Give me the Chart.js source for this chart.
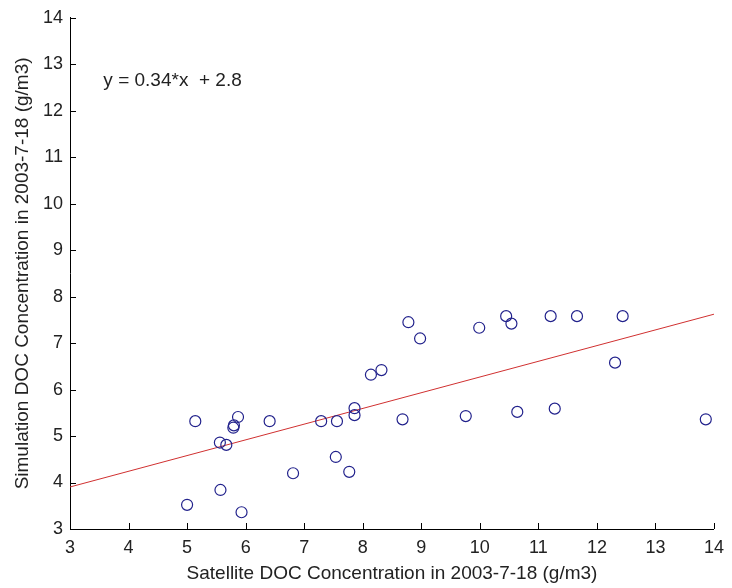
<!DOCTYPE html>
<html>
<head>
<meta charset="utf-8">
<script src="https://cdn.jsdelivr.net/npm/chart.js@4.4.1/dist/chart.umd.min.js"></script>
<style>
html,body{margin:0;padding:0;background:#fff;}
#wrap{width:732px;height:588px;}
</style>
</head>
<body>
<div id="wrap"><canvas id="c" width="732" height="588"></canvas></div>
<script>
const satelliteX = [5.14,5.0,5.57,5.93,5.56,5.67,5.79,5.80,5.87,6.41,6.81,7.29,7.56,7.54,7.77,7.86,7.86,8.14,8.32,8.68,8.78,8.98,9.76,9.99,10.45,10.54,10.64,11.21,11.28,11.66,12.44,12.31,13.86];
const simulationY = [5.32,3.52,3.84,3.36,4.86,4.81,5.18,5.23,5.41,5.32,4.20,5.32,5.32,4.55,4.23,5.60,5.45,6.32,6.42,5.36,7.45,7.10,5.43,7.33,7.58,7.42,5.52,7.58,5.59,7.58,7.58,6.58,5.36];
const fitSlope = 0.338;
const fitIntercept = 2.89;
const fitRangeX = [3, 14];
const tickValues = [3,4,5,6,7,8,9,10,11,12,13,14];
const equationText = 'y = 0.34*x  + 2.8';
const xTitle = 'Satellite DOC Concentration in 2003-7-18 (g/m3)';
const yTitle = 'Simulation DOC Concentration in 2003-7-18 (g/m3)';

const FONT = "'Liberation Sans', Arial, sans-serif";
const pts = satelliteX.map((x,i)=>({x:x,y:simulationY[i]}));
const fitPts = fitRangeX.map(x=>({x:x,y:fitSlope*x+fitIntercept}));

const extras = {
  id:'extras',
  afterDraw(chart){
    const ctx = chart.ctx, xs = chart.scales.x, ys = chart.scales.y;
    const a = chart.chartArea;
    ctx.save();
    ctx.strokeStyle = '#000';
    ctx.lineWidth = 1;
    ctx.beginPath();
    tickValues.forEach(v=>{
      const px = Math.round(xs.getPixelForValue(v))+0.5;
      ctx.moveTo(px, a.bottom); ctx.lineTo(px, a.bottom-6);
      const py = Math.round(ys.getPixelForValue(v))+0.5;
      ctx.moveTo(a.left, py); ctx.lineTo(a.left+6, py);
    });
    ctx.stroke();
    ctx.fillStyle = '#222';
    ctx.font = '19px ' + FONT;
    ctx.textAlign = 'left';
    ctx.textBaseline = 'middle';
    ctx.fillText(equationText, xs.getPixelForValue(3.57), ys.getPixelForValue(12.64));
    ctx.restore();
  }
};

new Chart(document.getElementById('c'), {
  type:'scatter',
  data:{datasets:[
    {data:pts, showLine:false, pointStyle:'circle', pointRadius:5.5, pointBorderWidth:1.2,
     borderColor:'#22228c', backgroundColor:'rgba(0,0,0,0)', pointBackgroundColor:'rgba(0,0,0,0)', order:1},
    {type:'line', data:fitPts, borderColor:'#d03030', borderWidth:1, pointRadius:0, fill:false, tension:0, order:2}
  ]},
  options:{
    responsive:false, animation:false, devicePixelRatio:1,
    layout:{padding:{top:15, right:9, left:0, bottom:0}},
    plugins:{legend:{display:false}, tooltip:{enabled:false}},
    scales:{
      x:{type:'linear', min:3, max:14,
        afterFit(s){s.height=59;},
        afterBuildTicks(s){s.ticks = tickValues.map(v=>({value:v}));},
        ticks:{color:'#222', font:{family:FONT, size:18}, padding:8, maxRotation:0, autoSkip:false},
        grid:{display:true, drawOnChartArea:false, drawTicks:false},
        border:{display:true, color:'#000', width:1},
        title:{display:true, text:xTitle, color:'#222', font:{family:FONT, size:19}, padding:{top:0,bottom:3}}
      },
      y:{type:'linear', min:3, max:14,
        afterFit(s){s.width=70;},
        afterBuildTicks(s){s.ticks = tickValues.map(v=>({value:v}));},
        ticks:{color:'#222', font:{family:FONT, size:18}, padding:7, autoSkip:false},
        grid:{display:true, drawOnChartArea:false, drawTicks:false},
        border:{display:true, color:'#000', width:1},
        title:{display:true, text:yTitle, color:'#222', font:{family:FONT, size:19}, padding:{top:11,bottom:0}}
      }
    }
  },
  plugins:[extras]
});
</script>
</body>
</html>
